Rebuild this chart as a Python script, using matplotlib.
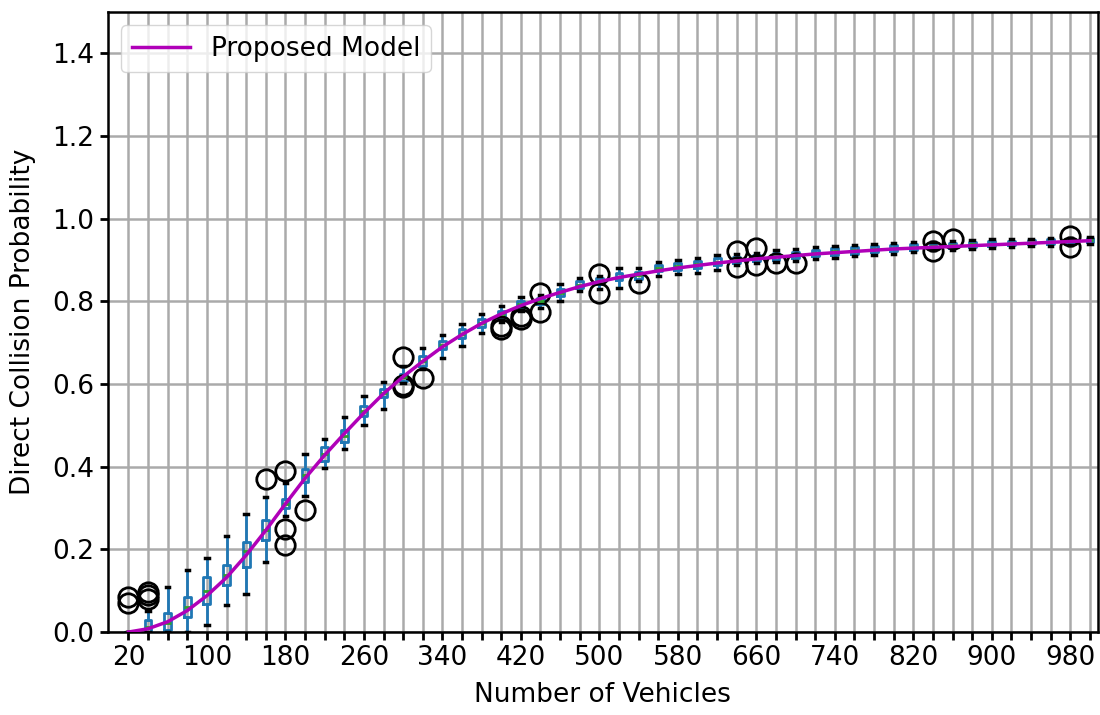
import matplotlib.pyplot as plt
import numpy as np

# number of vehicles (box positions)
vehicles = list(range(20, 1001, 20))

# boxplot stats: median, q1, q3, whisker low, whisker high
med = [0.0, 0.012, 0.022, 0.06, 0.1, 0.137, 0.195, 0.246, 0.31, 0.38,
       0.43, 0.475, 0.535, 0.578, 0.616, 0.656, 0.694, 0.722, 0.747, 0.77,
       0.793, 0.802, 0.82, 0.84, 0.85, 0.86, 0.864, 0.88, 0.885, 0.89,
       0.896, 0.9, 0.905, 0.909, 0.913, 0.917, 0.921, 0.924, 0.927, 0.929,
       0.931, 0.934, 0.936, 0.938, 0.94, 0.942, 0.943, 0.945, 0.946, 0.948]
q1 = [0.0, 0.0, 0.005, 0.037, 0.069, 0.113, 0.158, 0.222, 0.299, 0.362,
      0.415, 0.459, 0.524, 0.568, 0.608, 0.644, 0.684, 0.712, 0.737, 0.761,
      0.785, 0.795, 0.813, 0.833, 0.843, 0.853, 0.855, 0.873, 0.876, 0.882,
      0.889, 0.893, 0.898, 0.901, 0.905, 0.91, 0.913, 0.916, 0.92, 0.922,
      0.925, 0.928, 0.93, 0.932, 0.934, 0.936, 0.938, 0.939, 0.941, 0.943]
q3 = [0.0, 0.028, 0.045, 0.085, 0.133, 0.162, 0.218, 0.27, 0.323, 0.395,
      0.447, 0.49, 0.548, 0.588, 0.624, 0.668, 0.704, 0.733, 0.757, 0.777,
      0.801, 0.808, 0.829, 0.849, 0.857, 0.869, 0.871, 0.889, 0.892, 0.897,
      0.905, 0.907, 0.912, 0.917, 0.92, 0.925, 0.929, 0.931, 0.934, 0.936,
      0.938, 0.94, 0.942, 0.944, 0.946, 0.947, 0.949, 0.95, 0.951, 0.953]
wlo = [0.0, 0.0, 0.0, 0.0, 0.017, 0.065, 0.093, 0.17, 0.282, 0.33,
       0.398, 0.443, 0.502, 0.54, 0.603, 0.636, 0.663, 0.692, 0.724, 0.751,
       0.777, 0.785, 0.801, 0.825, 0.83, 0.833, 0.85, 0.862, 0.866, 0.87,
       0.875, 0.887, 0.893, 0.896, 0.898, 0.903, 0.906, 0.909, 0.913, 0.916,
       0.919, 0.925, 0.925, 0.927, 0.929, 0.931, 0.933, 0.935, 0.937, 0.939]
whi = [0.0, 0.05, 0.11, 0.15, 0.18, 0.232, 0.285, 0.326, 0.36, 0.43,
       0.467, 0.52, 0.572, 0.604, 0.644, 0.688, 0.72, 0.746, 0.77, 0.789,
       0.81, 0.815, 0.841, 0.857, 0.862, 0.881, 0.882, 0.896, 0.9, 0.905,
       0.913, 0.915, 0.918, 0.924, 0.927, 0.932, 0.935, 0.937, 0.94, 0.942,
       0.944, 0.944, 0.946, 0.948, 0.95, 0.951, 0.952, 0.953, 0.954, 0.956]
fliers = {20: [0.07, 0.085], 40: [0.08, 0.09, 0.097], 160: [0.37],
          180: [0.39, 0.25, 0.21], 200: [0.295], 300: [0.666, 0.593, 0.598],
          320: [0.614], 400: [0.733, 0.74], 420: [0.758, 0.765],
          440: [0.821, 0.774], 500: [0.867, 0.821], 540: [0.845],
          640: [0.922, 0.883], 660: [0.93, 0.889], 680: [0.892], 700: [0.894],
          840: [0.947, 0.921], 860: [0.951], 980: [0.958, 0.932]}

# proposed model curve
model = [0.0, 0.008, 0.025, 0.052, 0.088, 0.132, 0.186, 0.246, 0.31, 0.372,
         0.428, 0.48, 0.53, 0.577, 0.618, 0.655, 0.69, 0.72, 0.747, 0.77,
         0.79, 0.807, 0.822, 0.836, 0.848, 0.858, 0.866, 0.874, 0.881, 0.887,
         0.893, 0.898, 0.903, 0.907, 0.911, 0.915, 0.918, 0.921, 0.924, 0.927,
         0.929, 0.931, 0.933, 0.935, 0.937, 0.939, 0.941, 0.943, 0.945, 0.947]

stats = []
for i, v in enumerate(vehicles):
    stats.append(dict(med=med[i], q1=q1[i], q3=q3[i], whislo=wlo[i],
                      whishi=whi[i], fliers=fliers.get(v, [])))

fig = plt.figure(figsize=(11, 7.15), dpi=100)
ax = fig.add_axes([0.098, 0.116, 0.900, 0.867])

ax.grid(True, color='#aaaaaa', linewidth=1.8, zorder=0)
ax.set_axisbelow(True)

ax.bxp(stats, positions=vehicles, widths=7, manage_ticks=False,
       boxprops=dict(color='#1f77b4', linewidth=2),
       whiskerprops=dict(color='#1f77b4', linewidth=2),
       capprops=dict(color='black', linewidth=2.5),
       medianprops=dict(color='#2ca02c', linewidth=2),
       flierprops=dict(marker='o', markerfacecolor='none',
                       markeredgecolor='black', markersize=14,
                       markeredgewidth=2))

ax.plot(vehicles, model, color='#b000b8', linewidth=2.5,
        label='Proposed Model', zorder=5)

ax.set_xticks(vehicles)
ax.set_xticklabels([str(v) if (v - 20) % 80 == 0 else '' for v in vehicles])
ax.set_xlim(-1, 1008)
ax.set_ylim(0, 1.5)
ax.set_yticks(np.arange(0, 1.41, 0.2))

ax.tick_params(labelsize=19, direction='out', length=6, width=2)
for s in ax.spines.values():
    s.set_linewidth(1.8)

ax.set_xlabel('Number of Vehicles', fontsize=19, labelpad=8)
ax.set_ylabel('Direct Collision Probability', fontsize=19, labelpad=12)
ax.legend(loc='upper left', fontsize=19, handlelength=2.2)

fig.savefig('out.png', dpi=100)
